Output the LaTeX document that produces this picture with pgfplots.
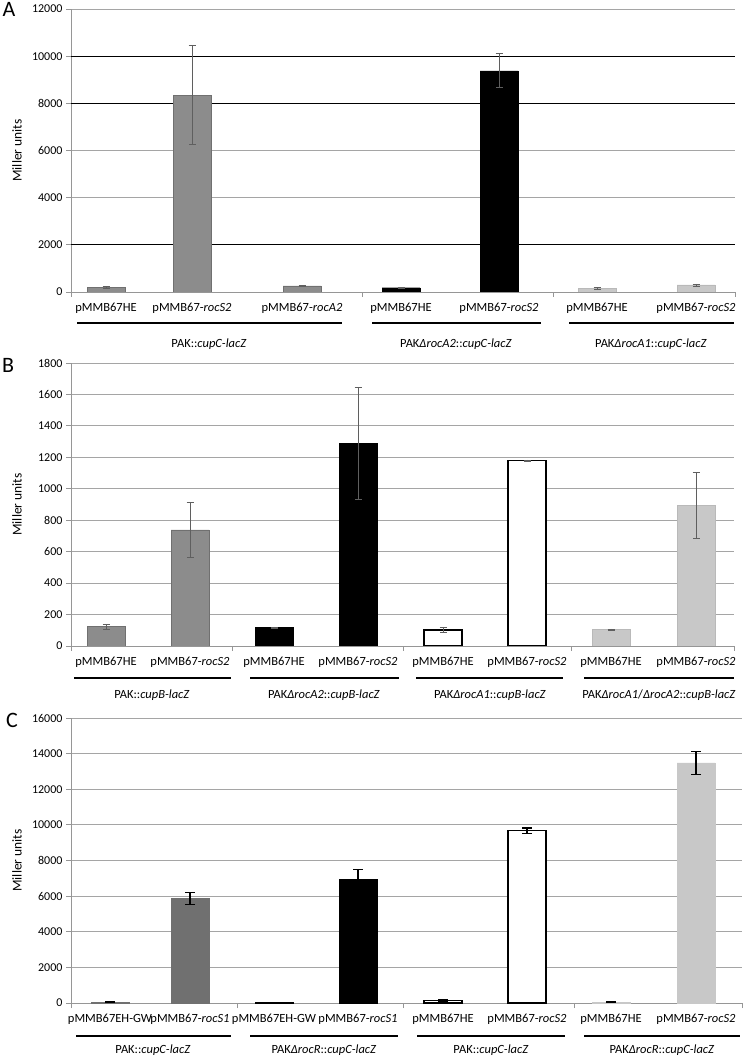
\documentclass[border=0pt]{standalone}
\usepackage{pgfplots}
\pgfplotsset{compat=1.18}
\usepackage{fontspec}
\setmainfont{Carlito}

\definecolor{gA}{RGB}{140,140,140}
\definecolor{gAedge}{RGB}{112,112,112}
\definecolor{lg}{RGB}{200,200,200}
\definecolor{lgedge}{RGB}{185,185,185}
\definecolor{dg}{RGB}{112,112,112}
\definecolor{gridg}{RGB}{165,165,165}
\definecolor{axg}{RGB}{150,150,150}
\definecolor{errg}{RGB}{95,95,95}

\pgfplotsset{
  panel/.style={
    scale only axis,
    axis x line*=bottom, axis y line*=left,
    axis line style={-, draw=axg, line width=0.8pt},
    ymin=0,
    ymajorgrids, major grid style={gridg, line width=0.8pt},
    tick align=outside,
    major tick length=5pt,
    ytick style={draw=axg, line width=0.8pt},
    xtick style={draw=none},
    yticklabel style={font=\fontsize{12}{14}\selectfont},
    xticklabel style={font=\fontsize{12.5}{14}\selectfont, yshift=-3pt},
    /pgf/number format/assume math mode=true,
    /pgf/number format/1000 sep={},
    scaled y ticks=false,
    ylabel={Miller units},
    every axis y label/.style={at={(axis description cs:0,0.5)}, rotate=90, anchor=center, yshift=54pt, font=\fontsize{13.5}{15}\selectfont},
    extra x tick labels={},
    extra x tick style={xtick style={draw=axg, line width=0.8pt}, xticklabel style={opacity=0}},
  },
  bb/.style={ybar, bar width=38, bar shift=0pt,
    error bars/y dir=both, error bars/y explicit},
  errthin/.style={error bars/error bar style={errg, line width=0.6pt},
    error bars/error mark options={rotate=90, mark size=3.5pt, errg, line width=0.6pt}},
  errthick/.style={error bars/error bar style={black, line width=1.2pt},
    error bars/error mark options={rotate=90, mark size=5pt, black, line width=1.2pt}},
}

\begin{document}
\begin{tikzpicture}
\useasboundingbox (0,0) rectangle (744pt,1062pt);

% ---------------- Panel A ----------------
\begin{axis}[panel,
  at={(71pt,770pt)}, anchor=south west,
  width=664pt, height=283pt,
  xmin=71, xmax=735, ymax=12000,
  ytick={0,2000,4000,6000,8000,10000,12000},
  extra y ticks={2000,8000,10000},
  extra y tick labels={{},{},{}},
  extra y tick style={major grid style={black, line width=0.9pt}, major tick length=0pt},
  xtick={106,192,302,401,499,597,696},
  xticklabels={pMMB67HE, pMMB67-\textit{rocS2}, pMMB67-\textit{rocA2}, pMMB67HE, pMMB67-\textit{rocS2}, pMMB67HE, pMMB67-\textit{rocS2}},
  extra x ticks={71,362,553,735},
]
\addplot[bb, fill=gA, draw=gAedge, line width=0.6pt, errthin] coordinates {
  (106,200) +- (0,40)
  (192,8350) +- (0,2100)
  (302,260) +- (0,20)
};
\addplot[bb, fill=black, draw=black, errthin] coordinates {
  (401,180) +- (0,10)
  (499,9380) +- (0,720)
};
\addplot[bb, fill=lg, draw=lgedge, errthin] coordinates {
  (597,160) +- (0,25)
  (696,300) +- (0,45)
};
\end{axis}

% ---------------- Panel B ----------------
\begin{axis}[panel,
  at={(71pt,416pt)}, anchor=south west,
  width=663pt, height=283pt,
  xmin=71, xmax=734, ymax=1800,
  ytick={0,200,400,600,800,1000,1200,1400,1600,1800},
  xtick={106,190,274,358,443,527,611,696},
  xticklabels={pMMB67HE, pMMB67-\textit{rocS2}, pMMB67HE, pMMB67-\textit{rocS2}, pMMB67HE, pMMB67-\textit{rocS2}, pMMB67HE, pMMB67-\textit{rocS2}},
  extra x ticks={71,232,403,571,734},
]
\addplot[bb, fill=gA, draw=gAedge, line width=0.6pt, errthin] coordinates {
  (106,123) +- (0,15)
  (190,739) +- (0,173)
};
\addplot[bb, fill=black, draw=black, errthin] coordinates {
  (274,117) +- (0,5)
  (358,1288) +- (0,356)
};
\addplot[bb, fill=white, draw=black, line width=1.2pt, errthin] coordinates {
  (443,102) +- (0,17)
  (527,1180) +- (0,4)
};
\addplot[bb, fill=lg, draw=lgedge, errthin] coordinates {
  (611,106) +- (0,3)
  (696,894) +- (0,210)
};
\end{axis}

% ---------------- Panel C ----------------
\begin{axis}[panel,
  at={(71pt,59pt)}, anchor=south west,
  width=671pt, height=285pt,
  xmin=71, xmax=742, ymax=16000,
  ytick={0,2000,4000,6000,8000,10000,12000,14000,16000},
  xtick={110,190,274,358,443,527,611,696},
  xticklabels={pMMB67EH-GW, pMMB67-\textit{rocS1}, pMMB67EH-GW, pMMB67-\textit{rocS1}, pMMB67HE, pMMB67-\textit{rocS2}, pMMB67HE, pMMB67-\textit{rocS2}},
  extra x ticks={71,237,403,574,742},
]
\addplot[bb, fill=dg, draw=dg, errthick] coordinates {
  (110,50) +- (0,10)
  (190,5880) +- (0,330)
};
\addplot[bb, fill=black, draw=black, errthick] coordinates {
  (274,40) +- (0,10)
  (358,6945) +- (0,530)
};
\addplot[bb, fill=white, draw=black, line width=1.2pt, errthick] coordinates {
  (443,150) +- (0,40)
  (527,9670) +- (0,150)
};
\addplot[bb, fill=lg, draw=lg, errthick] coordinates {
  (611,50) +- (0,10)
  (696,13480) +- (0,660)
};
\end{axis}

% ---------- group underlines and labels ----------
\tikzset{grp/.style={font=\fontsize{12.5}{14}\selectfont, anchor=center}}
% A
\draw[line width=1.3pt] (77pt,739pt) -- (342pt,739pt);
\draw[line width=1.3pt] (372pt,739pt) -- (541pt,739pt);
\draw[line width=1.3pt] (569pt,739pt) -- (734pt,739pt);
\node[grp] at (209pt,718pt) {PAK::\textit{cupC-lacZ}};
\node[grp] at (456pt,718pt) {PAK\textit{ΔrocA2}::\textit{cupC-lacZ}};
\node[grp] at (651pt,718pt) {PAK\textit{ΔrocA1}::\textit{cupC-lacZ}};
% B
\draw[line width=1.3pt] (74pt,384pt) -- (231pt,384pt);
\draw[line width=1.3pt] (250pt,384pt) -- (399pt,384pt);
\draw[line width=1.3pt] (416pt,384pt) -- (563pt,384pt);
\draw[line width=1.3pt] (584pt,384pt) -- (734pt,384pt);
\node[grp] at (152pt,367pt) {PAK::\textit{cupB-lacZ}};
\node[grp] at (324pt,367pt) {PAK\textit{ΔrocA2}::\textit{cupB-lacZ}};
\node[grp] at (490pt,367pt) {PAK\textit{ΔrocA1}::\textit{cupB-lacZ}};
\node[grp] at (659pt,367pt) {PAK\textit{ΔrocA1}/\textit{ΔrocA2}::\textit{cupB-lacZ}};
% C
\draw[line width=1.3pt] (76pt,26pt) -- (231pt,26pt);
\draw[line width=1.3pt] (250pt,26pt) -- (398pt,26pt);
\draw[line width=1.3pt] (417pt,26pt) -- (565pt,26pt);
\draw[line width=1.3pt] (584pt,26pt) -- (740pt,26pt);
\node[grp] at (153pt,12pt) {PAK::\textit{cupC-lacZ}};
\node[grp] at (324pt,12pt) {PAK\textit{ΔrocR}::\textit{cupC-lacZ}};
\node[grp] at (491pt,12pt) {PAK::\textit{cupC-lacZ}};
\node[grp] at (662pt,12pt) {PAK\textit{ΔrocR}::\textit{cupC-lacZ}};

% panel letters
\node[font=\fontsize{22}{24}\selectfont, anchor=center] at (9pt,1053pt) {A};
\node[font=\fontsize{22}{24}\selectfont, anchor=center] at (8pt,697pt) {B};
\node[font=\fontsize{22}{24}\selectfont, anchor=center] at (12pt,342pt) {C};
\end{tikzpicture}
\end{document}
